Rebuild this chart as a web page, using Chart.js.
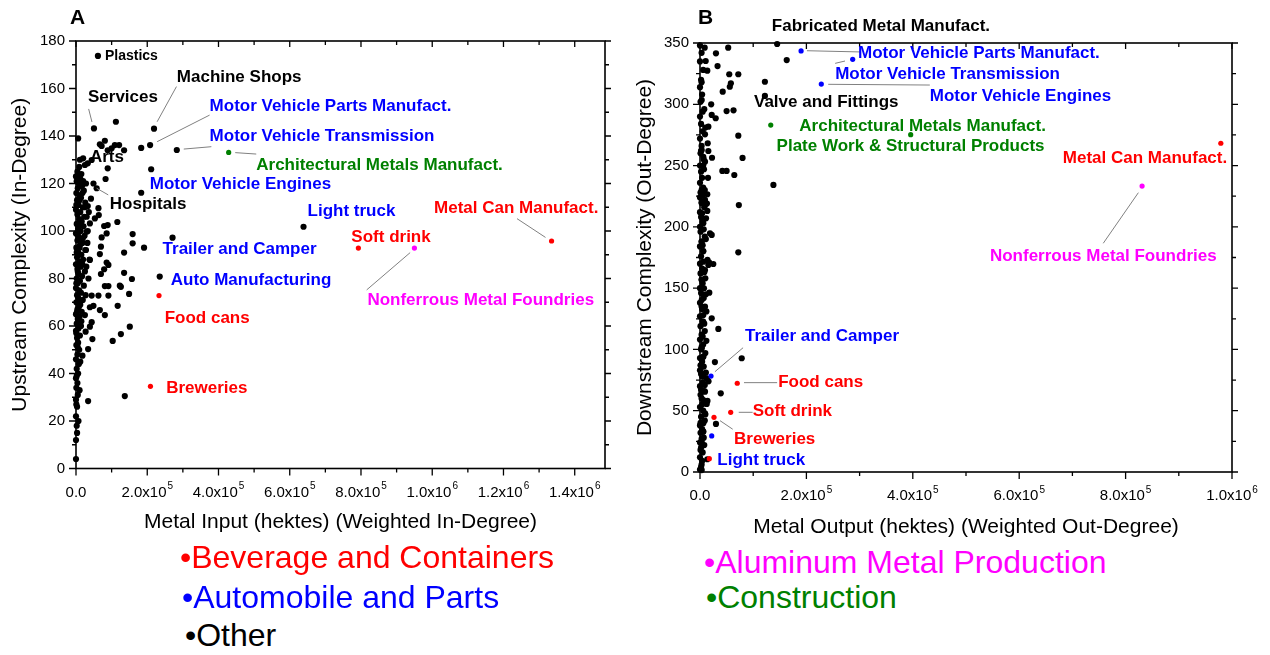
<!DOCTYPE html>
<html><head><meta charset="utf-8">
<script src="https://cdn.jsdelivr.net/npm/chart.js@4/dist/chart.umd.min.js"></script>
<style>
html,body{margin:0;padding:0;background:#fff;}
body{width:1270px;height:655px;position:relative;overflow:hidden;font-family:"Liberation Sans",Arial,sans-serif;}
canvas{position:absolute;top:0;}
#ca{left:0;}
#cb{left:630px;}
.leg{position:absolute;font-size:32px;line-height:32px;white-space:nowrap;transform:translateY(-50%);}
</style>
</head><body>
<canvas id="ca" width="640" height="540"></canvas>
<canvas id="cb" width="640" height="540"></canvas>
<div class="leg" style="left:180px;top:557px;color:#ff0000">•Beverage and Containers</div>
<div class="leg" style="left:182px;top:597px;color:#0000ff">•Automobile and Parts</div>
<div class="leg" style="left:185px;top:635px;color:#000000">•Other</div>
<div class="leg" style="left:704px;top:562px;color:#ff00ff">•Aluminum Metal Production</div>
<div class="leg" style="left:706px;top:597px;color:#008000">•Construction</div>
<script>
// ---------------- DATA ----------------
const categories = ['Beverage and Containers','Automobile and Parts','Aluminum Metal Production','Construction','Other'];

// Panel A: Metal Input (weighted in-degree) vs Upstream Complexity (in-degree)
const aBeverage = [[792700,92.8],[1335000,95.8],[233000,72.8],[209000,34.6]];
const aAuto = [];
const aAluminum = [[950000,92.8]];
const aConstruction = [[428600,133.1]];
const aOther = [
 [61600,173.7],[50400,143.2],[219000,143.1],[208000,136.2],[183000,135],[283000,134.1],[112000,146],
 [6000,139],[81000,138],[67000,136.5],[72000,135.8],[109000,136.2],[121000,136.2],[135000,134],[89000,134],
 [100000,134.8],[211000,126],[11000,130],[20000,130.6],[33000,128.5],[89000,126.4],[83000,121.9],[25000,127.8],
 [44000,129.9],[49000,120],[58000,118],[183000,116.1],[42000,113.6],[63000,109.6],[33000,110.5],[64000,106.7],
 [53000,105.3],[39000,103.2],[116000,103.8],[79000,102.1],[89000,102.5],[159000,98.7],[72000,97.3],[30000,99.7],
 [86000,99],[70000,93.4],[159000,94.8],[191000,93],[271000,97.2],[135000,90.9],[67000,90.3],[86000,86.7],[91000,85.7],
 [39000,87.8],[79000,83.9],[135000,82.4],[70000,81.9],[157000,79.8],[235000,80.8],[81000,76.8],[91000,76.8],
 [123000,77],[126000,76.5],[149000,73.5],[44000,72.8],[63000,72.8],[91000,72.8],[117000,68.5],[49000,68.5],
 [39000,67.9],[67000,66.7],[81000,64.6],[25000,64.6],[44000,61.6],[39000,59.7],[151000,59.7],[126000,56.6],
 [27000,57.6],[103000,53.7],[46000,54.5],[34000,50.3],[18000,47.5],[137000,30.5],[34000,28.4],[638700,101.8],
 [0,4],[0,12],[2000,18],[0,22],[3000,26],[0,29],[5000,31],[1000,34],[4000,36],[0,38],[6000,40],[2000,42],
 [8000,44],[0,46],[4000,48],[9000,50],[1000,52],[6000,53],[3000,55],[11000,56],[0,58],[7000,59],[14000,60],
 [2000,61],[5000,63],[10000,64],[0,65],[16000,66],[4000,67],[8000,68],[12000,69],[1000,70],[19000,71],[6000,72],
 [3000,73],[14000,74],[9000,75],[0,76],[22000,77],[5000,78],[11000,79],[2000,80],[17000,81],[7000,82],[25000,83],
 [4000,84],[13000,85],[0,86],[9000,87],[20000,88],[3000,89],[15000,90],[6000,91],[28000,92],[1000,93],[11000,94],
 [18000,95],[4000,96],[8000,97],[24000,98],[0,99],[13000,100],[6000,101],[21000,102],[2000,103],[16000,104],
 [9000,105],[30000,106],[4000,107],[12000,108],[0,109],[19000,110],[7000,111],[26000,112],[3000,113],[14000,114],
 [10000,115],[1000,116],[22000,117],[5000,118],[17000,119],[8000,120],[2000,121],[12000,122],[0,123],[6000,124],
 [4000,125],[3000,15],[7000,20],[1000,27],[10000,33],[2000,39],[12000,45],[5000,51],[1000,57],[15000,62],[3000,66],
 [9000,70],[27000,73],[1000,78],[35000,80],[5000,83],[18000,86],[2000,91],[10000,93],[32000,95],[6000,98],
 [14000,103],[23000,106],[1000,111],[10000,113],[18000,116],[28000,120],[15000,124],[9000,127],[20000,121],
 [25000,110],[33000,100],[38000,88],[29000,85],[36000,108],[26000,92],[19000,97]
];

// Panel B: Metal Output (weighted out-degree) vs Downstream Complexity (out-degree)
const bBeverage = [[979000,268.2],[70000,72.4],[57700,48.7],[26300,44.6],[17500,10.9]];
const bAuto = [[190000,343.5],[287000,336.7],[228000,316.5],[20700,78.3],[22000,29.4]];
const bAluminum = [[831000,233.3]];
const bConstruction = [[133000,283],[396000,275.2]];
const bOther = [
 [8800,346.2],[53000,346.2],[30000,341.6],[145000,349.2],[163000,336.1],[10700,335.3],[33000,331.2],[13700,327.4],
 [55000,324.5],[72000,324.5],[122000,318.4],[58000,317.1],[56000,314.3],[42700,310.3],[122000,306.8],[3200,303.5],
 [21000,300],[50000,294.5],[63000,295.1],[22000,291.3],[29500,288.6],[15700,281.7],[9400,275.5],[72000,274.4],
 [14500,268.2],[3200,262.7],[15700,261.9],[6200,257.2],[22600,256.4],[80000,256.2],[9400,253.2],[7500,247],
 [42000,245.6],[50000,245.6],[64500,242.3],[138000,234.2],[3000,230],[5600,226],[13700,226.6],[9400,222],
 [3200,219.2],[9400,217.8],[73000,217.8],[13700,213],[11300,207],[6200,203],[18800,194.7],[22000,193.4],
 [3200,187.9],[6200,180.3],[72000,179.2],[6200,171.6],[15700,168.9],[25000,169.7],[9400,164.8],[3200,156.6],
 [7500,149.9],[17500,146.3],[3200,140.3],[9400,134.9],[6200,128.1],[6200,122.6],[22000,125.4],[34500,116.7],
 [5000,110.4],[3200,100.9],[6200,94.1],[28000,89.7],[78400,92.8],[3200,85.9],[6200,77.8],[12600,76.4],
 [39000,64.2],[9400,65.5],[6200,58.7],[12600,55.5],[9400,47.9],[30000,39.2],[6200,39.7],[6200,32.9],[3200,24.7],
 [13700,10.4],[3200,1.6],
 [0,2],[3000,6],[0,12],[5000,16],[2000,20],[0,24],[7000,28],[1000,32],[4000,35],[0,38],[9000,42],[2000,45],
 [6000,50],[0,53],[11000,56],[3000,60],[1000,63],[8000,66],[0,70],[5000,73],[13000,76],[2000,80],[0,83],[7000,86],
 [4000,90],[0,93],[10000,97],[2000,100],[6000,104],[0,108],[3000,112],[9000,115],[1000,119],[5000,123],[0,127],
 [12000,131],[3000,135],[0,138],[7000,142],[2000,146],[0,150],[5000,154],[10000,158],[1000,162],[4000,166],
 [0,170],[14000,173],[2000,176],[6000,180],[0,184],[3000,188],[9000,192],[1000,196],[0,200],[5000,204],[2000,208],
 [0,212],[8000,216],[3000,220],[0,224],[1000,228],[6000,232],[0,236],[4000,240],[2000,245],[0,250],[7000,255],
 [1000,260],[3000,266],[0,272],[5000,278],[2000,284],[0,290],[8000,296],[1000,302],[4000,308],[0,314],[2000,320],
 [6000,328],[0,335],[3000,342],[0,348],
 [2000,4],[4000,9],[1000,18],[8000,22],[3000,27],[6000,33],[1000,40],[10000,47],[4000,55],[14000,58],[2000,67],
 [9000,71],[16000,74],[4000,78],[11000,81],[1000,87],[6000,94],[3000,102],[12000,107],[8000,121],[4000,133],
 [11000,145],[3000,157],[8000,163],[17000,171],[5000,185],[11000,190],[7000,198],[4000,211],[13000,219],
 [9000,230],[15000,240],[6000,250],[2000,262],[10000,281],[5000,294],[3000,318]
];

// Tick labels
const aXTicks = [0,200000,400000,600000,800000,1000000,1200000,1400000];
const aXTickLabels = ['0.0','2.0x10^5','4.0x10^5','6.0x10^5','8.0x10^5','1.0x10^6','1.2x10^6','1.4x10^6'];
const aYTicks = [0,20,40,60,80,100,120,140,160,180];
const bXTicks = [0,200000,400000,600000,800000,1000000];
const bXTickLabels = ['0.0','2.0x10^5','4.0x10^5','6.0x10^5','8.0x10^5','1.0x10^6'];
const bYTicks = [0,50,100,150,200,250,300,350];

// Annotation texts (text, category colour key, anchor in data units)
const aNotes = [
 ['Plastics','k',81200,173.7,14],['Machine Shops','k',283000,164.8],['Services','k',33600,156.4],
 ['Motor Vehicle Parts Manufact.','b',375000,152.6],['Arts','k',39000,131.2],
 ['Motor Vehicle Transmission','b',375000,139.8],['Architectural Metals Manufact.','g',506000,127.8],
 ['Motor Vehicle Engines','b',207000,119.7],['Hospitals','k',95000,111.4],['Light truck','b',650000,108.4],
 ['Metal Can Manufact.','r',1005000,109.7],['Soft drink','r',773000,97.5],['Trailer and Camper','b',243000,92.4],
 ['Auto Manufacturing','b',266000,79.4],['Nonferrous Metal Foundries','m',818000,70.9],['Food cans','r',249000,63.2],
 ['Breweries','r',253000,33.8]
];
const aLeaders = [
 [35500,151.4,44800,145.9],[282000,160.8,227700,146],[375000,148.8,227700,137.6],[302500,134.5,380000,135.5],
 [447000,133,506000,132.4],[58000,118,90500,115.2],[816000,75.2,938000,90.9],[1238000,105.2,1318000,97.3]
];
const bNotes = [
 ['Fabricated Metal Manufact.','k',135000,363.9],['Motor Vehicle Parts Manufact.','b',297000,341.8],
 ['Motor Vehicle Transmission','b',254000,324.7],['Motor Vehicle Engines','b',432000,306.8],
 ['Valve and Fittings','k',101500,301.3],['Architectural Metals Manufact.','g',186700,282.3],
 ['Plate Work & Structural Products','g',144000,265.4],['Metal Can Manufact.','r',682000,255.9],
 ['Nonferrous Metal Foundries','m',545000,176.2],['Trailer and Camper','b',84600,111],
 ['Food cans','r',147000,72.9],['Soft drink','r',99000,49.2],['Breweries','r',64000,26.9],['Light truck','b',32500,9.8]
];
const bLeaders = [
 [201000,343.7,301000,342.7],[254000,333.4,272600,335.3],[241000,316.3,432000,315.7],[758000,186.6,824000,227.9],
 [28000,81.8,81000,101.4],[82700,72.9,145000,72.9],[72800,48.7,99000,48.7],[37600,41.9,61500,34.9]
];

// ---------------- STYLE / RENDER ----------------
const FONT = '"Liberation Sans", Arial, sans-serif';
const COL = {r:'#ff0000', b:'#0000ff', k:'#000000', m:'#ff00ff', g:'#008000'};
const toXY = arr => arr.map(p => ({x:p[0], y:p[1]}));

function drawSup(ctx, text, cx, cy) {
  const parts = text.split('^');
  ctx.font = '15px ' + FONT;
  const wb = ctx.measureText(parts[0]).width;
  let we = 0;
  if (parts[1]) { ctx.font = '10px ' + FONT; we = ctx.measureText(parts[1]).width + 1; }
  const left = cx - (wb + we) / 2;
  ctx.textAlign = 'left'; ctx.textBaseline = 'middle';
  ctx.font = '15px ' + FONT;
  ctx.fillText(parts[0], left, cy);
  if (parts[1]) { ctx.font = '10px ' + FONT; ctx.fillText(parts[1], left + wb + 1, cy - 6); }
}

function makePanel(id, cfg) {
  const plugin = {
    id: 'frame' + id,
    beforeDatasetsDraw(chart) {
      const {ctx, chartArea: ca, scales: {x, y}} = chart;
      ctx.save();
      ctx.strokeStyle = '#000'; ctx.lineWidth = 1.6;
      ctx.strokeRect(ca.left, ca.top, ca.right - ca.left, ca.bottom - ca.top);
      ctx.lineWidth = 1.3;
      // y ticks (major + minor)
      for (let i = 0; i < cfg.yTicks.length; i++) {
        const v = cfg.yTicks[i];
        const py = y.getPixelForValue(v);
        ctx.beginPath();
        ctx.moveTo(ca.left - 7, py); ctx.lineTo(ca.left, py);
        ctx.moveTo(ca.right, py); ctx.lineTo(ca.right + 6, py);
        ctx.stroke();
        if (i < cfg.yTicks.length - 1) {
          const pm = y.getPixelForValue(v + (cfg.yTicks[i+1] - v) / 2);
          ctx.beginPath();
          ctx.moveTo(ca.left - 4, pm); ctx.lineTo(ca.left, pm);
          ctx.moveTo(ca.right, pm); ctx.lineTo(ca.right + 4, pm);
          ctx.stroke();
        }
      }
      // x ticks
      for (let i = 0; i < cfg.xTicks.length; i++) {
        const v = cfg.xTicks[i];
        const px = x.getPixelForValue(v);
        ctx.beginPath();
        ctx.moveTo(px, ca.bottom); ctx.lineTo(px, ca.bottom + 7);
        ctx.moveTo(px, ca.top); ctx.lineTo(px, ca.top + 6);
        ctx.stroke();
        const step = i < cfg.xTicks.length - 1 ? cfg.xTicks[i+1] - v : cfg.xTicks[1] - cfg.xTicks[0];
        const vm = v + step / 2;
        if (vm <= x.max) {
          const pm = x.getPixelForValue(vm);
          ctx.beginPath();
          ctx.moveTo(pm, ca.bottom); ctx.lineTo(pm, ca.bottom + 4);
          ctx.moveTo(pm, ca.top); ctx.lineTo(pm, ca.top + 4);
          ctx.stroke();
        }
      }
      ctx.fillStyle = '#000';
      // y tick labels
      ctx.font = '15px ' + FONT; ctx.textAlign = 'right'; ctx.textBaseline = 'middle';
      cfg.yTicks.forEach(v => ctx.fillText(String(v), ca.left - 11, y.getPixelForValue(v)));
      // x tick labels
      cfg.xTicks.forEach((v, i) => drawSup(ctx, cfg.xLabels[i], x.getPixelForValue(v), ca.bottom + 24));
      // axis titles
      ctx.font = '21px ' + FONT; ctx.textAlign = 'center'; ctx.textBaseline = 'middle';
      ctx.fillText(cfg.xTitle, (ca.left + ca.right) / 2, cfg.xTitleY);
      ctx.save();
      ctx.translate(cfg.yTitleX, (ca.top + ca.bottom) / 2);
      ctx.rotate(-Math.PI / 2);
      ctx.fillText(cfg.yTitle, 0, 0);
      ctx.restore();
      // panel letter
      ctx.font = 'bold 21px ' + FONT; ctx.textAlign = 'left';
      ctx.fillText(cfg.letter, cfg.letterX, 18);
      ctx.restore();
    },
    afterDatasetsDraw(chart) {
      const {ctx, scales: {x, y}} = chart;
      ctx.save();
      ctx.strokeStyle = '#808080'; ctx.lineWidth = 1;
      cfg.leaders.forEach(l => {
        ctx.beginPath();
        ctx.moveTo(x.getPixelForValue(l[0]), y.getPixelForValue(l[1]));
        ctx.lineTo(x.getPixelForValue(l[2]), y.getPixelForValue(l[3]));
        ctx.stroke();
      });
      ctx.textAlign = 'left'; ctx.textBaseline = 'middle';
      cfg.notes.forEach(n => {
        ctx.font = 'bold ' + (n[4] || 17) + 'px ' + FONT;
        ctx.fillStyle = COL[n[1]];
        ctx.fillText(n[0], x.getPixelForValue(n[2]), y.getPixelForValue(n[3]));
      });
      ctx.restore();
    }
  };
  const ds = (data, c, r) => ({data: toXY(data), backgroundColor: COL[c], borderColor: COL[c], pointRadius: r, pointBorderWidth: 0, clip: false});
  return new Chart(document.getElementById(id), {
    type: 'scatter',
    data: { datasets: [
      Object.assign(ds(cfg.sets[0], 'r', 2.6), {label: categories[0]}),
      Object.assign(ds(cfg.sets[1], 'b', 2.6), {label: categories[1]}),
      Object.assign(ds(cfg.sets[2], 'm', 2.6), {label: categories[2]}),
      Object.assign(ds(cfg.sets[3], 'g', 2.6), {label: categories[3]}),
      Object.assign(ds(cfg.sets[4], 'k', 3.1), {label: categories[4]})
    ]},
    options: {
      responsive: false, animation: false, devicePixelRatio: 1,
      layout: {padding: cfg.padding},
      plugins: {legend: {display: false}, tooltip: {enabled: false}},
      events: [],
      scales: {
        x: {type: 'linear', min: cfg.xMin, max: cfg.xMax, ticks: {display: false}, grid: {display: false}, border: {display: false},
            afterFit(s) { s.height = 40; }},
        y: {type: 'linear', min: cfg.yMin, max: cfg.yMax, ticks: {display: false}, grid: {display: false}, border: {display: false},
            afterFit(s) { s.width = cfg.yWidth; }}
      }
    },
    plugins: [plugin]
  });
}

makePanel('ca', {
  sets: [aBeverage, aAuto, aAluminum, aConstruction, aOther],
  xMin: 0, xMax: 1485000, yMin: 0, yMax: 180,
  xTicks: aXTicks, xLabels: aXTickLabels, yTicks: aYTicks,
  yWidth: 76, padding: {left: 0, top: 41, right: 35, bottom: 31.5},
  xTitle: 'Metal Input (hektes) (Weighted In-Degree)', xTitleY: 522,
  yTitle: 'Upstream Complexity (In-Degree)', yTitleX: 20,
  letter: 'A', letterX: 70, notes: aNotes, leaders: aLeaders
});
makePanel('cb', {
  sets: [bBeverage, bAuto, bAluminum, bConstruction, bOther],
  xMin: 0, xMax: 1000000, yMin: 0, yMax: 350,
  xTicks: bXTicks, xLabels: bXTickLabels, yTicks: bYTicks,
  yWidth: 70, padding: {left: 0, top: 43, right: 38, bottom: 28},
  xTitle: 'Metal Output (hektes) (Weighted Out-Degree)', xTitleY: 527,
  yTitle: 'Downstream Complexity (Out-Degree)', yTitleX: 15,
  letter: 'B', letterX: 68, notes: bNotes, leaders: bLeaders
});
</script>
</body></html>
